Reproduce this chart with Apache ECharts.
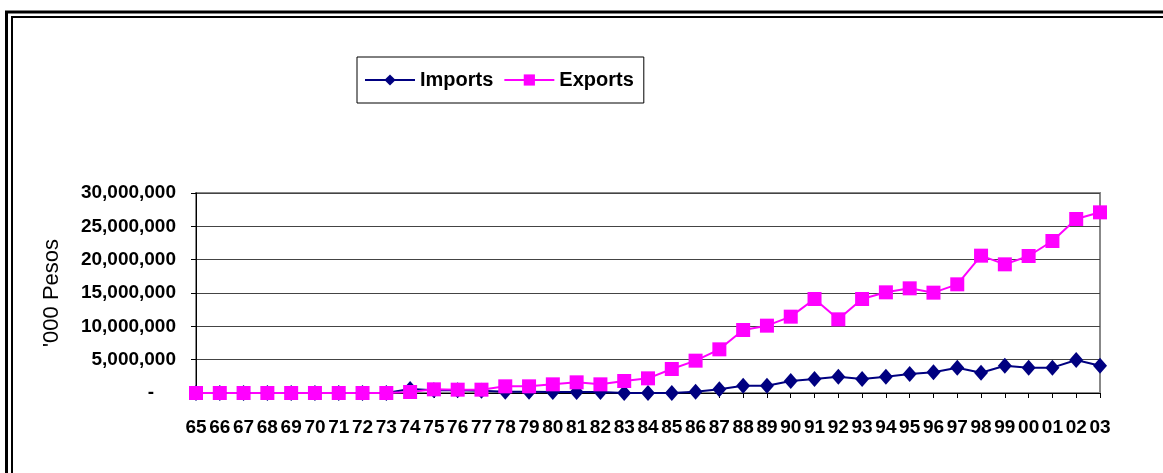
<!DOCTYPE html>
<html>
<head>
    <meta http-equiv="Content-Type" content="text/html; charset=utf-8" />
    <title>Imports / Exports</title>
    <script src="https://cdn.jsdelivr.net/npm/echarts@6/dist/echarts.min.js"></script>
    <style>
        html, body { margin: 0; padding: 0; background: #fff; }
        #chart { width: 1163px; height: 473px; }
    </style>
</head>
<body>
<div id="chart"></div>
<script>
    // data, '000 pesos
    var years = ['65','66','67','68','69','70','71','72','73','74','75','76','77','78','79',
                 '80','81','82','83','84','85','86','87','88','89','90','91','92','93','94',
                 '95','96','97','98','99','00','01','02','03'];
    var imports = [0, 0, 0, 0, 0, 0, 0, 0, 0, 600000,
                   400000, 400000, 350000, 200000, 200000, 150000, 150000, 150000, 0, 0,
                   0, 200000, 550000, 1100000, 1100000, 1800000, 2100000, 2450000, 2100000, 2450000,
                   2850000, 3100000, 3800000, 3050000, 4100000, 3800000, 3800000, 4950000, 4100000];
    var exports = [0, 0, 0, 0, 0, 0, 0, 0, 0, 150000,
                   550000, 500000, 500000, 1000000, 1000000, 1300000, 1600000, 1300000, 1800000, 2200000,
                   3600000, 4850000, 6550000, 9450000, 10100000, 11450000, 14100000, 11050000, 14100000, 15100000,
                   15700000, 15050000, 16300000, 20600000, 19300000, 20550000, 22800000, 26100000, 27100000];
    var yTicks = [0, 5000000, 10000000, 15000000, 20000000, 25000000, 30000000];

    var myChart = echarts.init(document.getElementById('chart'));
    var font = 'Liberation Sans, Arial, sans-serif';

    var option = {
        backgroundColor: '#fff',
        animation: false,
        textStyle: { fontFamily: font },
        // double frame round the chart
        graphic: [
            { type: 'rect', shape: { x: 6.5, y: 12, width: 1300, height: 600 },
              style: { fill: null, stroke: '#000', lineWidth: 3 } },
            { type: 'rect', shape: { x: 12, y: 17, width: 1300, height: 600 },
              style: { fill: null, stroke: '#000', lineWidth: 2 } }
        ],
        legend: {
            left: 357,
            top: 57,
            data: ['Imports', 'Exports'],
            itemWidth: 50,
            itemHeight: 14,
            itemGap: 10,
            padding: [13, 10, 13, 7],
            borderColor: '#000',
            borderWidth: 1,
            textStyle: { fontFamily: font, fontWeight: 'bold', fontSize: 20, color: '#000' }
        },
        grid: {
            left: 196,
            right: 63,
            top: 193,
            bottom: 80,
            show: true,
            borderColor: '#888',
            borderWidth: 2
        },
        xAxis: {
            type: 'category',
            data: years,
            boundaryGap: false,
            axisLine: { lineStyle: { color: '#000', width: 1 } },
            axisTick: { show: true, length: 5, interval: 0, lineStyle: { color: '#000' } },
            axisLabel: {
                interval: 0,
                margin: 25,
                fontFamily: font,
                fontWeight: 'bold',
                fontSize: 19,
                color: '#000'
            }
        },
        yAxis: {
            type: 'value',
            min: yTicks[0],
            max: yTicks[yTicks.length - 1],
            interval: 5000000,
            name: "'000 Pesos",
            nameLocation: 'middle',
            nameGap: 133,
            nameTextStyle: { fontFamily: font, fontSize: 22, color: '#000' },
            axisLine: { show: true, lineStyle: { color: '#000', width: 1 } },
            axisTick: { show: true, length: 5, lineStyle: { color: '#000' } },
            splitLine: { lineStyle: { color: '#444', width: 1 } },
            axisLabel: {
                margin: 20,
                fontFamily: font,
                fontWeight: 'bold',
                fontSize: 19,
                color: '#000',
                formatter: function (v) {
                    if (v === 0) return '{d|-}';
                    return v.toLocaleString('en-US');
                },
                rich: {
                    d: { fontFamily: font, fontWeight: 'bold', fontSize: 19, color: '#000', padding: [0, 22, 0, 0] }
                }
            }
        },
        series: [
            {
                name: 'Imports',
                type: 'line',
                data: imports,
                symbol: 'diamond',
                symbolSize: [14, 16],
                color: '#000080',
                lineStyle: { color: '#000080', width: 2 },
                itemStyle: { color: '#000080' }
            },
            {
                name: 'Exports',
                type: 'line',
                data: exports,
                symbol: 'rect',
                symbolSize: 14,
                color: '#ff00ff',
                lineStyle: { color: '#ff00ff', width: 2 },
                itemStyle: { color: '#ff00ff' }
            }
        ]
    };

    myChart.setOption(option);
</script>
</body>
</html>
